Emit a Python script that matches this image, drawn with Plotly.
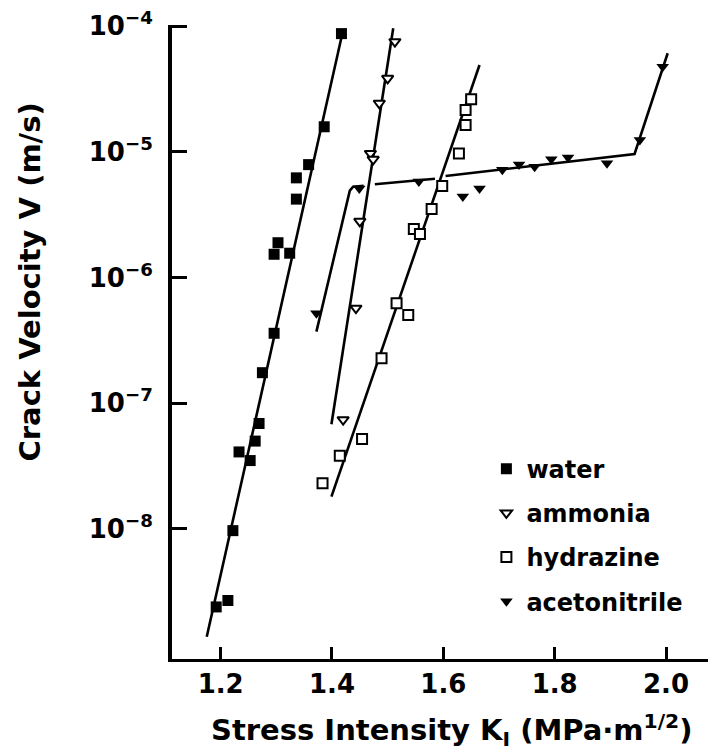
import plotly.graph_objects as go

# stress intensity K_I (MPa m^1/2) and crack velocity V (m/s)
water_k = [1.192, 1.213, 1.222, 1.233, 1.253, 1.262, 1.269, 1.275, 1.296,
           1.296, 1.303, 1.324, 1.336, 1.336, 1.358, 1.386, 1.417]
water_v = [2.4e-9, 2.7e-9, 9.7e-9, 4.1e-8, 3.5e-8, 5.0e-8, 6.9e-8, 1.75e-7, 3.6e-7,
           1.53e-6, 1.89e-6, 1.56e-6, 4.2e-6, 6.2e-6, 7.9e-6, 1.58e-5, 8.7e-5]

ammonia_k = [1.420, 1.443, 1.450, 1.469, 1.474, 1.485, 1.500, 1.513]
ammonia_v = [7.4e-8, 5.7e-7, 2.8e-6, 9.7e-6, 8.7e-6, 2.43e-5, 3.84e-5, 7.5e-5]

hydrazine_k = [1.383, 1.414, 1.454, 1.489, 1.516, 1.537, 1.547, 1.558, 1.579,
               1.598, 1.628, 1.640, 1.640, 1.650]
hydrazine_v = [2.31e-8, 3.83e-8, 5.2e-8, 2.28e-7, 6.24e-7, 5.04e-7, 2.43e-6, 2.22e-6, 3.5e-6,
               5.35e-6, 9.7e-6, 1.63e-5, 2.15e-5, 2.62e-5]

acn_k = [1.372, 1.449, 1.556, 1.635, 1.665, 1.706, 1.736, 1.764, 1.794, 1.824, 1.894, 1.953, 1.994]
acn_v = [5.2e-7, 5.1e-6, 5.8e-6, 4.4e-6, 5.1e-6, 7.2e-6, 7.9e-6, 7.6e-6, 8.7e-6, 9.0e-6,
         8.1e-6, 1.24e-5, 4.74e-5]

# fitted lines (None = break where the line is interrupted)
water_fit_k = [1.175, 1.42]
water_fit_v = [1.39e-9, 9.3e-5]
ammonia_fit_k = [1.399, 1.510]
ammonia_fit_v = [6.8e-8, 9.6e-5]
hydrazine_fit_k = [1.399, 1.665]
hydrazine_fit_v = [1.81e-8, 4.9e-5]
acn_fit_k = [1.372, 1.432, 1.438, 1.457, None, 1.477, 1.585, None, 1.604, 1.9435, 2.003]
acn_fit_v = [3.71e-7, 4.9e-6, 5.27e-6, 5.37e-6, None, 5.51e-6, 6.1e-6, None, 6.41e-6, 9.6e-6, 6.07e-5]

x_ticks = [1.2, 1.4, 1.6, 1.8, 2.0]
x_ticktext = ['1.2', '1.4', '1.6', '1.8', '2.0']
y_ticks = [1e-8, 1e-7, 1e-6, 1e-5, 1e-4]
y_ticktext = ['10<sup>−8</sup>', '10<sup>−7</sup>', '10<sup>−6</sup>', '10<sup>−5</sup>', '10<sup>−4</sup>']

FONT = 'DejaVu Sans'

fig = go.Figure()

for k, v in [(water_fit_k, water_fit_v), (ammonia_fit_k, ammonia_fit_v),
             (hydrazine_fit_k, hydrazine_fit_v), (acn_fit_k, acn_fit_v)]:
    fig.add_trace(go.Scatter(x=k, y=v, mode='lines', showlegend=False,
                             line=dict(color='black', width=2.6), hoverinfo='skip'))

fig.add_trace(go.Scatter(x=water_k, y=water_v, mode='markers', name='water', legendgroup='a',
                         marker=dict(symbol='square', size=11, color='black')))
fig.add_trace(go.Scatter(x=ammonia_k, y=ammonia_v, mode='markers', name='ammonia', legendgroup='b',
                         marker=dict(symbol='triangle-down', size=10, color='white',
                                     line=dict(color='black', width=2))))
fig.add_trace(go.Scatter(x=hydrazine_k, y=hydrazine_v, mode='markers', name='hydrazine', legendgroup='c',
                         marker=dict(symbol='square', size=10, color='white',
                                     line=dict(color='black', width=2))))
fig.add_trace(go.Scatter(x=acn_k, y=acn_v, mode='markers', name='acetonitrile', legendgroup='d',
                         marker=dict(symbol='triangle-down', size=11, color='black')))

# the page body keeps its default 8px margin, so the figure is 8px smaller each way
fig.update_layout(
    width=708, height=744,
    margin=dict(l=164, r=1, t=17, b=93),
    paper_bgcolor='white', plot_bgcolor='white',
    font=dict(family=FONT, color='black', weight='bold'),
    showlegend=True,
    legend=dict(x=0.579, y=0.335, xanchor='left', yanchor='top',
                font=dict(family=FONT, size=24, color='black', weight='bold'),
                tracegroupgap=10, itemwidth=30, bgcolor='rgba(0,0,0,0)'),
    annotations=[
        dict(text='Crack Velocity V (m/s)', textangle=-90,
             xref='paper', yref='paper', x=-0.262, y=0.595, xanchor='center', yanchor='middle',
             showarrow=False, font=dict(family=FONT, size=29, weight='bold')),
        dict(text='Stress Intensity K<sub>I</sub> (MPa·m<sup>1/2</sup>)',
             xref='paper', yref='paper', x=0.515, y=-0.112, xanchor='center', yanchor='middle',
             showarrow=False, font=dict(family=FONT, size=29, weight='bold')),
    ],
)

fig.update_xaxes(range=[1.1126, 2.088], tickvals=x_ticks, ticktext=x_ticktext, automargin=False,
                 ticks='inside', ticklen=12, tickwidth=3, tickcolor='black',
                 showline=True, linewidth=3, linecolor='black', showgrid=False, zeroline=False,
                 tickfont=dict(family=FONT, size=26, weight='bold'), ticklabelstandoff=0,
                 ticklabeloverflow='allow')
fig.update_yaxes(type='log', range=[-9.034, -3.992], tickvals=y_ticks, ticktext=y_ticktext,
                 automargin=False, ticklabeloverflow='allow',
                 ticks='inside', ticklen=15, tickwidth=3, tickcolor='black',
                 showline=True, linewidth=4, linecolor='black', showgrid=False, zeroline=False,
                 tickfont=dict(family=FONT, size=26, weight='bold'), ticklabelstandoff=10)

fig.write_html("out.html")
